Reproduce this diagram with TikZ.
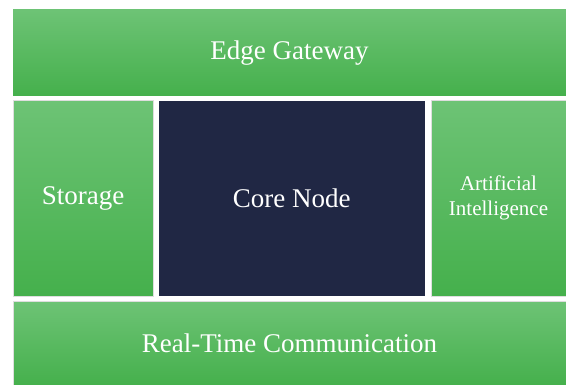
\documentclass[tikz,border=0pt]{standalone}
\usepackage{fontspec}
\setmainfont{Liberation Serif}
\usetikzlibrary{positioning}
\definecolor{tileTop}{RGB}{109,195,117}
\definecolor{tileBot}{RGB}{69,176,76}
\definecolor{coreBlue}{RGB}{32,39,68}

\begin{document}
\begin{tikzpicture}[x=1pt, y=1pt,
    tile/.style={draw=black!13, line width=0.8pt, top color=tileTop, bottom color=tileBot,
      text=white, align=center, inner sep=0pt, outer sep=0pt,
      font=\fontsize{27}{30}\selectfont},
    wide/.style={tile, minimum width=553pt},
    side/.style={tile, minimum height=195.3pt},
    core/.style={fill=coreBlue, text=white, align=center, inner sep=0pt, outer sep=0pt,
      minimum width=265.5pt, minimum height=195.3pt, font=\fontsize{27}{30}\selectfont}]
  \useasboundingbox (0,0) rectangle (566,-385);
  \node[wide, draw=none, anchor=north west, minimum height=86pt] (edge) at (13,-10) {Edge Gateway};
  \node[side, below=4.7pt of edge.south west, anchor=north west, minimum width=140pt] (store) {Storage};
  \node[core, right=6pt of store.north east, anchor=north west] (corenode) {Core Node};
  \node[side, right=6.5pt of corenode.north east, anchor=north west, minimum width=135pt,
    font=\fontsize{21}{25}\selectfont] (ai) {Artificial\\Intelligence};
  \node[wide, below=5.7pt of store.south west, anchor=north west, minimum height=84pt] (rtc) {Real-Time Communication};
\end{tikzpicture}
\end{document}
